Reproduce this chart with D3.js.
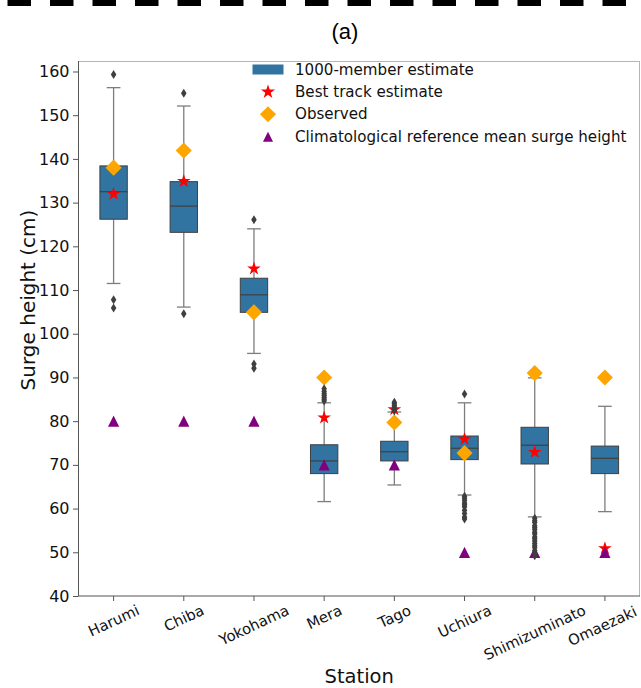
<!DOCTYPE html>
<html>
<head>
<meta charset="utf-8">
<script src="https://cdn.jsdelivr.net/npm/d3@7"></script>
<style>
  html, body { margin: 0; padding: 0; background: #fff; }
  svg { display: block; font-family: "DejaVu Sans", sans-serif; }
</style>
</head>
<body>
<svg id="chart" width="641" height="688"></svg>
<script>
// Stations along the coast
const stations = ["Harumi", "Chiba", "Yokohama", "Mera", "Tago", "Uchiura", "Shimizuminato", "Omaezaki"];

// 1000-member ensemble box statistics (cm)
const q1 = [126.2, 123.2, 104.9, 68.0, 70.9, 71.2, 70.2, 68.0];
const medians = [132.5, 129.2, 108.9, 70.9, 73.0, 73.8, 74.5, 71.5];
const q3 = [138.4, 134.8, 112.7, 74.6, 75.4, 76.6, 78.6, 74.3];
const whiskerLow = [111.5, 106.1, 95.5, 61.6, 65.4, 63.1, 58.1, 59.3];
const whiskerHigh = [156.3, 152.1, 124.0, 84.2, 82.1, 84.2, 89.9, 83.4];
const outliers = [
  [159.3, 107.8, 105.9],
  [155.0, 104.6],
  [126.1, 93.1, 92.1],
  [84.6, 85.0, 85.4, 85.9, 86.3, 86.8, 87.4],
  [82.4, 82.8, 83.2, 83.6, 84.0, 84.3],
  [86.2, 62.8, 62.4, 61.9, 61.3, 60.9, 60.4, 59.6, 58.9, 58.1, 57.6],
  [57.8, 57.2, 56.8, 56.1, 55.7, 55.2, 54.6, 54.2, 53.5, 53.1, 52.6, 52.0, 51.5, 51.1, 50.4, 49.8, 49.2],
  []
];

// Point estimates per station (cm)
const bestTrack = [132.0, 134.9, 114.9, 80.8, 82.7, 75.9, 72.9, 50.9];
const observed = [138.0, 141.9, 104.9, 90.0, 79.7, 72.7, 91.0, 90.0];
const climatology = [80, 80, 80, 70, 70, 50, 50, 50];

const yTicks = [40, 50, 60, 70, 80, 90, 100, 110, 120, 130, 140, 150, 160];

const legendLabels = [
  "1000-member estimate",
  "Best track estimate",
  "Observed",
  "Climatological reference mean surge height"
];

const boxColor = "#3274a1";
const lineColor = "#3f3f3f";
const whiskerColor = "#7d7d7d";

const svg = d3.select("#chart");
const W = 641, H = 688;
const plot = { left: 78.5, right: 640, top: 61, bottom: 596 };

// Dashed separator across the top
svg.append("line")
  .attr("x1", 0).attr("x2", W)
  .attr("y1", 3).attr("y2", 3)
  .attr("stroke", "#000")
  .attr("stroke-width", 6)
  .attr("stroke-dasharray", "23.5,19")
  .attr("stroke-dashoffset", -7.5);

// Panel letter
svg.append("text")
  .attr("x", 345).attr("y", 31)
  .attr("text-anchor", "middle")
  .attr("dominant-baseline", "central")
  .style("font-family", "'Liberation Sans', Arial, sans-serif")
  .style("font-size", "22px")
  .attr("fill", "#000")
  .text("(a)");

const x = d3.scaleBand().domain(stations).range([plot.left, plot.right]).padding(0);
const y = d3.scaleLinear().domain([40, 162.4]).range([plot.bottom, plot.top]);

const boxW = x.bandwidth() * 0.39;
const capW = boxW / 2;

// Frame
svg.append("line").attr("x1", plot.left).attr("x2", plot.right).attr("y1", plot.top + 0.5).attr("y2", plot.top + 0.5)
  .attr("stroke", "#b5b5b5").attr("stroke-width", 1);
svg.append("line").attr("x1", plot.right - 0.5).attr("x2", plot.right - 0.5).attr("y1", plot.top).attr("y2", plot.bottom)
  .attr("stroke", "#b5b5b5").attr("stroke-width", 1);

// Y axis
const yAxis = d3.axisLeft(y).tickValues(yTicks).tickSize(5.5).tickPadding(3.5).tickFormat(d3.format("d"));
const gy = svg.append("g").attr("transform", `translate(${plot.left},0)`).call(yAxis);
gy.select(".domain").attr("stroke", "#555").attr("d", `M0,${plot.top}V${plot.bottom}`);
gy.selectAll(".tick line").attr("stroke", "#555");
gy.selectAll(".tick text")
  .style("font-family", "'DejaVu Sans', sans-serif")
  .style("font-size", "16px")
  .attr("fill", "#111");

// X axis
const xAxis = d3.axisBottom(x).tickSize(5).tickPadding(0);
const gx = svg.append("g").attr("transform", `translate(0,${plot.bottom})`).call(xAxis);
gx.select(".domain").attr("stroke", "#555").attr("d", `M${plot.left},0H${plot.right}`);
gx.selectAll(".tick line").attr("stroke", "#555");

// Rotated station names, centred under each tick with the rotated box top-aligned
const rot = 25 * Math.PI / 180;
gx.selectAll(".tick text").each(function () {
  const t = d3.select(this);
  t.style("font-family", "'DejaVu Sans', sans-serif")
    .style("font-size", "14.8px")
    .attr("fill", "#111")
    .attr("text-anchor", "middle")
    .attr("dominant-baseline", "central")
    .attr("y", 0).attr("dy", null);
  const w = this.getComputedTextLength();
  const h = 14.8 * 1.17;
  const hh = w * Math.sin(rot) + h * Math.cos(rot);
  const cy = 5 + hh / 2;
  t.attr("transform", `translate(0,${cy}) rotate(-25)`);
});
// keep the last name inside the canvas
gx.selectAll(".tick").filter(d => d === "Omaezaki").select("text").attr("x", -3);

// Axis titles
svg.append("text")
  .attr("transform", `translate(28,300) rotate(-90)`)
  .attr("text-anchor", "middle")
  .attr("dominant-baseline", "central")
  .style("font-size", "20px")
  .attr("fill", "#111")
  .text("Surge height (cm)");

svg.append("text")
  .attr("x", (plot.left + plot.right) / 2)
  .attr("y", 676)
  .attr("text-anchor", "middle")
  .attr("dominant-baseline", "central")
  .style("font-size", "19.5px")
  .attr("fill", "#111")
  .text("Station");

// Box plots
const boxes = svg.append("g");
stations.forEach((s, i) => {
  const cx = x(s) + x.bandwidth() / 2;
  const g = boxes.append("g");
  // whiskers
  g.append("line").attr("x1", cx).attr("x2", cx).attr("y1", y(q1[i])).attr("y2", y(whiskerLow[i]))
    .attr("stroke", whiskerColor).attr("stroke-width", 1.3);
  g.append("line").attr("x1", cx).attr("x2", cx).attr("y1", y(q3[i])).attr("y2", y(whiskerHigh[i]))
    .attr("stroke", whiskerColor).attr("stroke-width", 1.3);
  // caps
  [whiskerLow[i], whiskerHigh[i]].forEach(v => {
    g.append("line").attr("x1", cx - capW / 2).attr("x2", cx + capW / 2).attr("y1", y(v)).attr("y2", y(v))
      .attr("stroke", whiskerColor).attr("stroke-width", 1.3);
  });
  // box
  g.append("rect")
    .attr("x", cx - boxW / 2).attr("width", boxW)
    .attr("y", y(q3[i])).attr("height", y(q1[i]) - y(q3[i]))
    .attr("fill", boxColor).attr("stroke", lineColor).attr("stroke-width", 1);
  // median
  g.append("line").attr("x1", cx - boxW / 2).attr("x2", cx + boxW / 2).attr("y1", y(medians[i])).attr("y2", y(medians[i]))
    .attr("stroke", lineColor).attr("stroke-width", 1.2);
});

// Marker shapes
const rotatedSquare = {
  draw(ctx, size) {
    const r = Math.sqrt(size / 2);
    ctx.moveTo(0, -r); ctx.lineTo(r, 0); ctx.lineTo(0, r); ctx.lineTo(-r, 0); ctx.closePath();
  }
};
const upTriangle = {
  draw(ctx, size) {
    const r = Math.sqrt(size) / 2;
    ctx.moveTo(0, -r); ctx.lineTo(r, r); ctx.lineTo(-r, r); ctx.closePath();
  }
};
const thinDiamond = {
  draw(ctx, size) {
    const r = Math.sqrt(size) / 2;
    ctx.moveTo(0, -r * 1.3); ctx.lineTo(r * 0.8, 0); ctx.lineTo(0, r * 1.3); ctx.lineTo(-r * 0.8, 0); ctx.closePath();
  }
};

const starPath = d3.symbol().type(d3.symbolStar).size(58)();
const diamondPath = d3.symbol().type(rotatedSquare).size(130)();
const trianglePath = d3.symbol().type(upTriangle).size(125)();
const fliersPath = d3.symbol().type(thinDiamond).size(48)();

const marks = svg.append("g");
const cxOf = s => x(s) + x.bandwidth() / 2;

marks.selectAll(".best").data(stations).join("path")
  .attr("d", starPath).attr("fill", "#ff0000")
  .attr("transform", (s, i) => `translate(${cxOf(s)},${y(bestTrack[i])})`);

marks.selectAll(".obs").data(stations).join("path")
  .attr("class", "obs")
  .attr("d", diamondPath).attr("fill", "#ffa500")
  .attr("transform", (s, i) => `translate(${cxOf(s)},${y(observed[i])})`);

marks.selectAll(".clim").data(stations).join("path")
  .attr("class", "clim")
  .attr("d", trianglePath).attr("fill", "#800080")
  .attr("transform", (s, i) => `translate(${cxOf(s)},${y(climatology[i])})`);

// Ensemble outliers
const flierData = [];
stations.forEach((s, i) => outliers[i].forEach(v => flierData.push({ s, v })));
svg.append("g").selectAll("path").data(flierData).join("path")
  .attr("d", fliersPath).attr("fill", lineColor)
  .attr("transform", d => `translate(${cxOf(d.s)},${y(d.v)})`);

// Legend
const leg = svg.append("g").attr("transform", "translate(252.5,69.5)");
const rowH = 22.4;
leg.append("rect").attr("x", 0).attr("y", -5).attr("width", 31).attr("height", 10).attr("fill", boxColor);
leg.append("path").attr("d", d3.symbol().type(d3.symbolStar).size(62)()).attr("fill", "#ff0000").attr("transform", `translate(15.5,${rowH})`);
leg.append("path").attr("d", diamondPath).attr("fill", "#ffa500").attr("transform", `translate(15.5,${rowH * 2})`);
leg.append("path").attr("d", d3.symbol().type(upTriangle).size(100)()).attr("fill", "#800080").attr("transform", `translate(15.5,${rowH * 3})`);
legendLabels.forEach((t, i) => {
  leg.append("text")
    .attr("x", 42.5).attr("y", i * rowH)
    .attr("dominant-baseline", "central")
    .style("font-size", "15.1px")
    .attr("fill", "#111")
    .text(t);
});
</script>
</body>
</html>
